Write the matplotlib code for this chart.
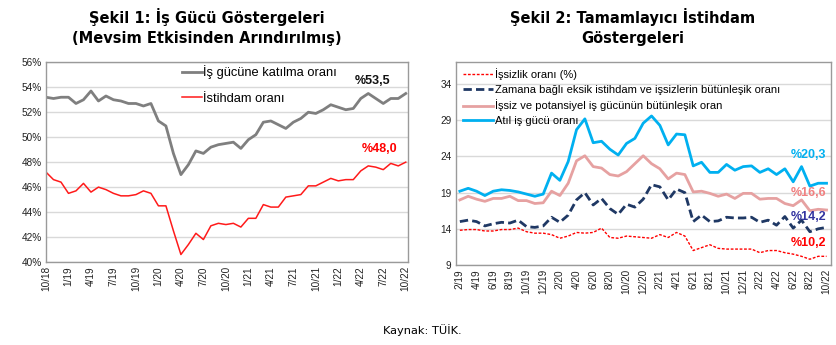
import numpy as np
import matplotlib
matplotlib.use("Agg")
import matplotlib.pyplot as plt

# Şekil 1: monthly, 10/18 - 10/22 (seasonally adjusted, %)
katilma = [53.2, 53.1, 53.2, 53.2, 52.7, 53.0, 53.7, 52.9, 53.3, 53.0, 52.9, 52.7,
           52.7, 52.5, 52.7, 51.3, 50.9, 48.7, 47.0, 47.8, 48.9, 48.7, 49.2, 49.4,
           49.5, 49.6, 49.1, 49.8, 50.2, 51.2, 51.3, 51.0, 50.7, 51.2, 51.5, 52.0,
           51.9, 52.2, 52.6, 52.4, 52.2, 52.3, 53.1, 53.5, 53.1, 52.7, 53.1, 53.1, 53.5]
istihdam = [47.2, 46.6, 46.4, 45.5, 45.7, 46.3, 45.6, 46.0, 45.8, 45.5, 45.3, 45.3,
            45.4, 45.7, 45.5, 44.5, 44.5, 42.5, 40.6, 41.4, 42.3, 41.8, 42.9, 43.1,
            43.0, 43.1, 42.8, 43.5, 43.5, 44.6, 44.4, 44.4, 45.2, 45.3, 45.4, 46.1,
            46.1, 46.4, 46.7, 46.5, 46.6, 46.6, 47.3, 47.7, 47.6, 47.4, 47.9, 47.7, 48.0]
ticks1 = ["10/18", "1/19", "4/19", "7/19", "10/19", "1/20", "4/20", "7/20", "10/20",
          "1/21", "4/21", "7/21", "10/21", "1/22", "4/22", "7/22", "10/22"]

# Şekil 2: monthly, 2/19 - 10/22 (%)
issizlik = [13.8, 13.9, 13.9, 13.7, 13.7, 13.9, 13.9, 14.1, 13.6, 13.4, 13.4, 13.2,
            12.7, 13.0, 13.5, 13.4, 13.5, 14.1, 12.8, 12.7, 13.0, 12.9, 12.8, 12.7,
            13.2, 12.8, 13.5, 13.0, 11.0, 11.4, 11.8, 11.3, 11.2, 11.2, 11.2, 11.2,
            10.7, 11.0, 11.0, 10.7, 10.5, 10.2, 9.8, 10.2, 10.2]
zamana_bagli = [15.0, 15.2, 15.0, 14.4, 14.7, 14.9, 14.8, 15.2, 14.3, 14.2, 14.4, 15.6,
                14.9, 15.9, 18.0, 19.0, 17.3, 18.2, 16.8, 16.0, 17.4, 17.0, 18.1, 20.1,
                19.8, 18.0, 19.5, 19.0, 15.0, 15.9, 15.0, 15.1, 15.6, 15.5, 15.5, 15.6,
                14.9, 15.2, 14.5, 15.7, 14.1, 15.2, 13.6, 14.0, 14.2]
potansiyel = [18.0, 18.5, 18.1, 17.8, 18.2, 18.2, 18.5, 17.9, 17.9, 17.5, 17.6, 19.2,
              18.6, 20.3, 23.4, 24.1, 22.6, 22.4, 21.5, 21.3, 21.9, 23.0, 24.1, 23.0,
              22.3, 20.9, 21.7, 21.5, 19.1, 19.2, 18.9, 18.5, 18.8, 18.2, 18.9, 18.9,
              18.1, 18.2, 18.2, 17.5, 17.2, 18.0, 16.5, 16.7, 16.6]
atil = [19.2, 19.6, 19.2, 18.6, 19.2, 19.4, 19.3, 19.1, 18.8, 18.5, 18.8, 21.7,
        20.7, 23.3, 27.7, 29.2, 25.9, 26.1, 25.0, 24.2, 25.8, 26.5, 28.6, 29.6,
        28.3, 25.6, 27.1, 27.0, 22.7, 23.2, 21.8, 21.8, 22.9, 22.1, 22.6, 22.7,
        21.8, 22.3, 21.5, 22.3, 20.5, 22.6, 19.9, 20.3, 20.3]
ticks2 = ["2/19", "4/19", "6/19", "8/19", "10/19", "12/19", "2/20", "4/20", "6/20",
          "8/20", "10/20", "12/20", "2/21", "4/21", "6/21", "8/21", "10/21", "12/21",
          "2/22", "4/22", "6/22", "8/22", "10/22"]

W, H = 837, 345
fig = plt.figure(figsize=(W / 100, H / 100), dpi=100)
fig.patch.set_facecolor("white")

TICK = dict(family="Liberation Sans", size=7.2, color="#222222")


def px_axes(x0, y0, x1, y1):
    return fig.add_axes([x0 / W, 1 - y1 / H, (x1 - x0) / W, (y1 - y0) / H])


def style(ax):
    for s in ax.spines.values():
        s.set_color("#9a9a9a")
        s.set_linewidth(1.0)
    ax.grid(axis="y", color="#d9d9d9", linewidth=1.0)
    ax.set_axisbelow(True)
    ax.tick_params(length=0, pad=3)
    for lab in ax.get_xticklabels() + ax.get_yticklabels():
        lab.set_fontfamily(TICK["family"])
        lab.set_fontsize(TICK["size"])
        lab.set_color(TICK["color"])


def pct(v):
    return f"%{v:.1f}".replace(".", ",")


def end_label(ax, x, y, dx, dy, color):
    ax.annotate(pct(y), (x, y), xytext=(dx, dy), textcoords="offset pixels",
                ha="center", va="center", fontsize=9, fontweight="bold",
                family="Liberation Sans", color=color)


# ---- Şekil 1 ----
ax1 = px_axes(46, 62.3, 408, 262)
x1 = np.arange(len(katilma))
ax1.plot(x1, katilma, color="#7f7f7f", lw=2.0, label="İş gücüne katılma oranı")
ax1.plot(x1, istihdam, color="#ff1a1a", lw=1.1, label="İstihdam oranı")
ax1.set_xlim(0, len(katilma) - 1 + 0.3)
ax1.set_ylim(40, 56)
ax1.set_yticks(range(40, 57, 2))
ax1.set_yticklabels([f"{v}%" for v in range(40, 57, 2)])
ax1.set_xticks(x1[::3])
ax1.set_xticklabels(ticks1, rotation=90)
style(ax1)
ax1.legend(loc="upper left", bbox_to_anchor=(0.376, 0.985), frameon=False,
           prop=dict(family="Liberation Sans", size=9.3), handlelength=1.55,
           handletextpad=0.08, labelspacing=1.05, borderaxespad=0, borderpad=0)
end_label(ax1, x1[-1], katilma[-1], -33, 13, "#111111")
end_label(ax1, x1[-1], istihdam[-1], -26, 13, "#ff0000")
fig.text(207 / W, 1 - 17 / H, "Şekil 1: İş Gücü Göstergeleri", ha="center", va="center",
         fontsize=10.5, fontweight="bold", family="DejaVu Sans")
fig.text(207 / W, 1 - 38 / H, "(Mevsim Etkisinden Arındırılmış)", ha="center", va="center",
         fontsize=10.5, fontweight="bold", family="DejaVu Sans")

# ---- Şekil 2 ----
ax2 = px_axes(455.7, 61.7, 830.7, 265)
x2 = np.arange(len(atil))
ax2.plot(x2, issizlik, color="#ff0000", lw=1.0, ls=(0, (2, 1.2)), label="İşsizlik oranı (%)")
ax2.plot(x2, zamana_bagli, color="#1f3864", lw=2.0, ls=(0, (3, 1.5)),
         label="Zamana bağlı eksik istihdam ve işsizlerin bütünleşik oranı")
ax2.plot(x2, potansiyel, color="#e6a1a1", lw=2.0,
         label="İşsiz ve potansiyel iş gücünün bütünleşik oran")
ax2.plot(x2, atil, color="#00b0f0", lw=2.0, label="Atıl iş gücü oranı")
ax2.set_xlim(-0.5, len(atil) - 0.5)
ax2.set_ylim(9, 37.1)
ax2.set_yticks(range(9, 35, 5))
ax2.set_xticks(x2[::2])
ax2.set_xticklabels(ticks2, rotation=90)
style(ax2)
ax2.legend(loc="upper left", bbox_to_anchor=(0.0195, 0.967), frameon=False,
           prop=dict(family="Liberation Sans", size=8), handlelength=2.7,
           handletextpad=0.2, labelspacing=0.42, borderaxespad=0, borderpad=0)
end_label(ax2, x2[-1], atil[-1], -18, 28, "#00b0f0")
end_label(ax2, x2[-1], potansiyel[-1], -18, 17, "#f08080")
end_label(ax2, x2[-1], zamana_bagli[-1], -18, 10, "#3333a0")
end_label(ax2, x2[-1], issizlik[-1], -18, 13, "#ff0000")
fig.text(633 / W, 1 - 17 / H, "Şekil 2: Tamamlayıcı İstihdam", ha="center", va="center",
         fontsize=10.5, fontweight="bold", family="DejaVu Sans")
fig.text(633 / W, 1 - 38 / H, "Göstergeleri", ha="center", va="center",
         fontsize=10.5, fontweight="bold", family="DejaVu Sans")

fig.text(422 / W, 1 - 330 / H, "Kaynak: TÜİK.", ha="center", va="center",
         fontsize=8.2, family="DejaVu Sans")

fig.savefig("out.png", dpi=100, facecolor="white")
